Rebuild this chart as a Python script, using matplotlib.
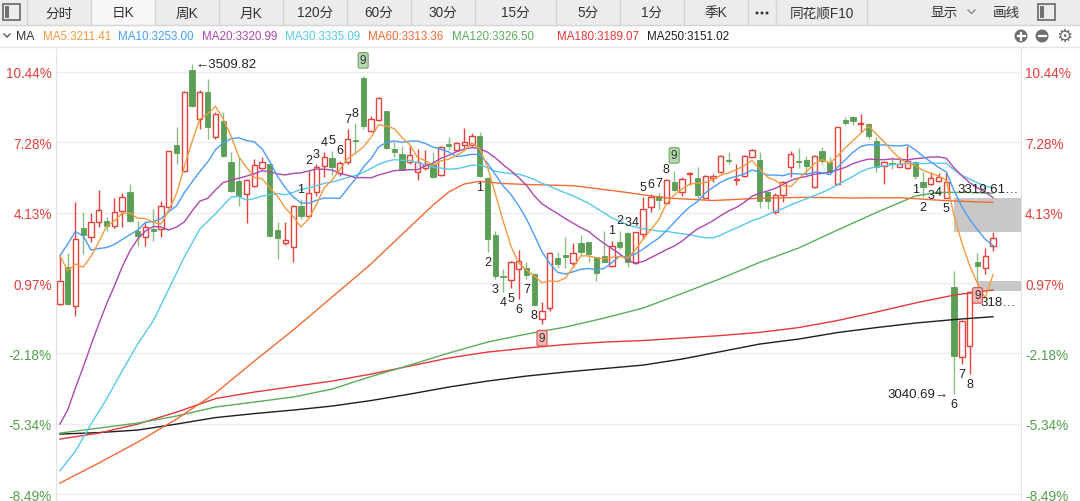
import numpy as np
import pandas as pd
import matplotlib
matplotlib.use("Agg")
import matplotlib.pyplot as plt
from matplotlib.patches import Rectangle, Circle

plt.rcParams['font.family'] = ['Liberation Sans', 'Noto Sans CJK SC', 'DejaVu Sans']

# price that the percent axis counts from
base = 3168.0

opens = [3169.0, 3221.6, 3165.7, 3276.6, 3263.8, 3285.2, 3287.4, 3280.3, 3301.6, 3327.8,
         3273.2, 3264.7, 3275.6, 3275.6, 3306.5, 3395.4, 3358.5, 3501.6, 3432.0, 3469.9,
         3406.8, 3429.5, 3370.4, 3344.3, 3325.4, 3337.2, 3361.9, 3368.0, 3274.6, 3255.3,
         3249.6, 3308.7, 3294.5, 3327.8, 3365.6, 3376.5, 3354.8, 3370.4, 3402.1, 3490.2,
         3414.5, 3431.0, 3442.9, 3389.3, 3382.2, 3370.4, 3356.2, 3362.3, 3368.0, 3352.8,
         3396.4, 3388.3, 3395.4, 3395.0, 3407.4, 3347.7, 3267.1, 3209.3, 3203.1, 3218.8,
         3219.8, 3211.7, 3147.7, 3162.9, 3234.0, 3238.7, 3227.3, 3255.7, 3256.7, 3235.4,
         3237.7, 3223.5, 3256.7, 3269.9, 3226.9, 3268.5, 3307.3, 3323.0, 3312.2, 3342.0,
         3328.6, 3354.2, 3348.5, 3320.1, 3347.7, 3357.1, 3374.1, 3345.3, 3350.5, 3378.4,
         3374.1, 3327.8, 3300.2, 3323.9, 3363.3, 3372.7, 3373.7, 3334.9, 3386.9, 3371.3,
         3339.6, 3431.0, 3434.4, 3424.4, 3424.9, 3401.1, 3365.6, 3369.4, 3364.2, 3361.9,
         3371.3, 3342.8, 3339.6, 3344.3, 3320.2, 3192.8, 3093.3, 3109.8, 3228.3, 3219.8,
         3251.9]
highs = [3237.3, 3241.5, 3313.6, 3299.4, 3298.4, 3331.1, 3292.7, 3319.7, 3326.4, 3339.6,
         3287.4, 3285.2, 3304.0, 3315.9, 3386.9, 3420.2, 3471.3, 3509.82, 3473.2, 3488.8,
         3441.5, 3441.5, 3384.6, 3377.5, 3346.7, 3375.1, 3377.5, 3368.5, 3285.2, 3285.2,
         3310.2, 3318.3, 3358.5, 3368.0, 3384.6, 3386.9, 3372.7, 3417.7, 3425.8, 3493.5,
         3436.6, 3463.7, 3443.8, 3398.8, 3394.0, 3395.4, 3389.3, 3387.9, 3384.6, 3394.0,
         3405.9, 3399.7, 3418.7, 3412.1, 3413.1, 3349.1, 3273.2, 3218.8, 3230.6, 3246.2,
         3228.3, 3212.5, 3171.4, 3243.4, 3243.4, 3263.8, 3255.3, 3267.1, 3257.6, 3236.3,
         3273.2, 3259.0, 3273.2, 3270.9, 3271.4, 3321.1, 3325.4, 3326.4, 3346.7, 3358.5,
         3349.1, 3356.2, 3363.3, 3352.4, 3353.8, 3380.8, 3384.6, 3368.0, 3380.8, 3389.3,
         3384.6, 3330.1, 3326.4, 3344.3, 3386.9, 3390.3, 3378.9, 3380.8, 3391.7, 3377.5,
         3420.6, 3434.4, 3436.6, 3439.1, 3426.3, 3405.9, 3372.7, 3377.5, 3377.5, 3394.0,
         3372.7, 3356.2, 3356.2, 3355.2, 3357.1, 3216.4, 3146.7, 3188.0, 3241.5, 3248.2,
         3271.8]
lows = [3167.5, 3168.0, 3152.4, 3240.1, 3257.2, 3278.5, 3273.2, 3277.0, 3278.9, 3285.2,
        3251.9, 3251.9, 3259.0, 3263.8, 3304.0, 3368.0, 3356.2, 3448.6, 3417.7, 3403.5,
        3403.5, 3377.5, 3327.8, 3308.7, 3283.7, 3335.3, 3360.9, 3263.8, 3233.0, 3253.3,
        3228.3, 3289.8, 3292.3, 3323.0, 3349.1, 3352.8, 3351.4, 3368.0, 3382.2, 3417.7,
        3413.1, 3429.5, 3389.3, 3377.5, 3357.6, 3368.0, 3345.3, 3359.5, 3348.1, 3351.4,
        3387.9, 3386.9, 3390.3, 3393.2, 3349.1, 3242.5, 3204.6, 3185.7, 3191.3, 3176.1,
        3204.6, 3166.8, 3141.3, 3159.5, 3219.8, 3219.8, 3221.2, 3238.7, 3229.2, 3202.2,
        3228.3, 3221.2, 3247.2, 3221.2, 3225.9, 3261.4, 3299.4, 3304.0, 3311.2, 3330.1,
        3323.0, 3338.2, 3319.3, 3319.3, 3342.0, 3355.2, 3368.0, 3338.2, 3349.5, 3377.5,
        3305.0, 3304.0, 3297.0, 3313.6, 3349.1, 3361.9, 3352.4, 3333.9, 3368.0, 3353.8,
        3338.2, 3423.4, 3423.4, 3413.9, 3403.5, 3356.2, 3339.6, 3360.9, 3363.3, 3360.9,
        3346.7, 3320.7, 3338.2, 3342.0, 3319.61, 3040.69, 3083.8, 3069.5, 3202.0, 3211.7,
        3244.8]
closes = [3201.8, 3169.0, 3261.4, 3267.1, 3285.2, 3302.6, 3280.3, 3299.4, 3321.5, 3287.4,
          3266.1, 3278.9, 3272.4, 3308.7, 3386.1, 3383.2, 3469.9, 3450.9, 3469.9, 3421.0,
          3439.1, 3379.8, 3330.1, 3323.0, 3345.3, 3366.6, 3370.4, 3266.1, 3262.4, 3260.0,
          3308.7, 3294.5, 3326.4, 3363.3, 3378.4, 3364.2, 3369.0, 3403.5, 3401.1, 3422.4,
          3432.0, 3461.4, 3390.7, 3384.6, 3359.5, 3381.2, 3370.4, 3368.0, 3350.0, 3392.6,
          3393.2, 3397.4, 3399.7, 3407.4, 3350.5, 3261.4, 3209.3, 3207.0, 3229.2, 3230.1,
          3210.3, 3167.6, 3159.8, 3241.1, 3225.9, 3236.3, 3241.1, 3243.4, 3240.1, 3212.7,
          3229.2, 3251.9, 3249.6, 3228.3, 3270.9, 3304.0, 3321.5, 3317.3, 3345.7, 3331.5,
          3346.7, 3355.6, 3323.9, 3351.4, 3350.5, 3378.9, 3372.3, 3346.7, 3379.8, 3387.9,
          3315.9, 3315.9, 3323.9, 3342.0, 3382.2, 3371.3, 3365.6, 3379.8, 3372.7, 3357.1,
          3420.2, 3425.8, 3429.5, 3425.8, 3407.4, 3363.3, 3370.4, 3368.0, 3368.0, 3372.7,
          3350.5, 3334.9, 3347.7, 3349.1, 3342.0, 3095.5, 3145.3, 3185.7, 3223.5, 3236.8,
          3262.4]

# moving averages: values before the window is full come from older data
ma5_head = [3237.7, 3216.4, 3225.9, 3221.2]
ma10_head = [3237.7, 3254.3, 3272.1, 3265.7, 3245.8, 3247.9, 3249.3, 3253.6, 3260.7]
ma20_head = [2998.5, 3018.4, 3049.7, 3079.5, 3110.8, 3140.6, 3169.0, 3194.6, 3221.6, 3244.4,
             3261.4, 3272.8, 3279.2, 3278.5, 3274.2, 3278.5, 3285.6, 3301.2, 3315.4]
ma30_head_idx = [0, 2, 4, 6, 8, 10, 12, 14, 16, 18, 20, 22, 23, 24, 25, 26, 28]
ma30_head = [2932.1, 2960.1, 2998.5, 3034.0, 3073.8, 3112.2, 3144.9, 3190.4, 3235.8, 3275.6,
             3297.0, 3321.1, 3321.8, 3316.8, 3319.0, 3322.5, 3326.1]

ma60_idx = [0, 5, 10, 15, 20, 25, 30, 35, 40, 45, 48, 50, 52, 54, 57, 60, 66, 72, 78, 84,
            90, 96, 102, 108, 114, 120]
ma60 = [2914.6, 2943.1, 2972.9, 3005.6, 3042.5, 3088.0, 3132.1, 3179.0, 3225.9, 3278.5,
        3309.7, 3328.2, 3339.6, 3343.4, 3340.3, 3338.9, 3337.2, 3328.9, 3319.7, 3316.1,
        3319.3, 3320.7, 3319.7, 3320.1, 3315.9, 3313.36]
ma120_idx = [0, 5, 10, 15, 20, 25, 30, 35, 40, 45, 50, 55, 60, 65, 70, 75, 80, 85, 90, 95,
             100, 105, 110, 113, 117, 120]
ma120 = [2985.7, 2992.8, 2999.9, 3009.9, 3022.7, 3029.8, 3036.9, 3048.2, 3066.0, 3082.3,
         3099.4, 3115.0, 3126.4, 3136.3, 3149.1, 3163.3, 3184.0, 3205.3, 3228.3, 3248.6,
         3274.2, 3299.1, 3322.5, 3327.8, 3327.5, 3326.5]
ma180_idx = [0, 5, 10, 15, 20, 25, 30, 35, 40, 45, 50, 55, 60, 65, 70, 75, 80, 85, 90, 95,
             100, 105, 110, 115, 120]
ma180 = [2977.2, 2985.7, 2998.5, 3015.5, 3034.7, 3044.0, 3051.8, 3059.6, 3069.5, 3080.9,
         3092.3, 3100.8, 3106.5, 3111.5, 3115.0, 3117.2, 3120.7, 3124.3, 3128.8, 3135.6,
         3145.6, 3157.7, 3170.5, 3181.8, 3189.07]
ma250_idx = ma180_idx
ma250 = [2984.3, 2986.4, 2990.0, 2998.5, 3007.7, 3013.4, 3018.4, 3024.1, 3031.9, 3041.1,
         3051.1, 3059.6, 3066.7, 3072.4, 3077.4, 3082.3, 3090.9, 3101.5, 3112.2, 3119.3,
         3128.5, 3135.6, 3142.0, 3147.0, 3151.02]

ma_labels = ['MA5:3211.41', 'MA10:3253.00', 'MA20:3320.99', 'MA30:3335.09',
             'MA60:3313.36', 'MA120:3326.50', 'MA180:3189.07', 'MA250:3151.02']
ma_colors = ['#f29b3f', '#4a9df5', '#ad48b0', '#57c8ea', '#f26a34', '#5cad5a', '#e6383a', '#1e1e1e']

pct_ticks = [10.44, 7.28, 4.13, 0.97, -2.18, -5.34, -8.49]

# TD sequential counts: first bar of each 1..9 run
td_up = [31, 71]
td_down = [54, 110]

tabs = ['分时', '日K', '周K', '月K', '120分', '60分', '30分', '15分', '5分', '1分', '季K', '', '同花顺F10']
tab_edges = [27, 91, 155, 219, 283, 347, 411, 475, 556, 620, 684, 748, 776, 867]

red = '#e5423c'
green = '#5b9e55'
green_wick = '#8bbd85'

n = len(closes)
idx = np.arange(n)
cs = pd.Series(closes)

def ma_line(window, head_idx, head_vals):
    roll = cs.rolling(window).mean()
    xs = list(head_idx) + list(idx[window - 1:])
    ys = list(head_vals) + list(roll.values[window - 1:])
    return xs, ys

fig = plt.figure(figsize=(10.8, 5.02), dpi=100)
ax = fig.add_axes([56 / 1080, 0, (1021 - 56) / 1080, 1 - 48 / 502])

# candles
w = 0.68
for i in range(n):
    o, h, l, c = opens[i], highs[i], lows[i], closes[i]
    if c >= o:
        ax.vlines(i, max(o, c), h, color=red, lw=1, zorder=2)
        ax.vlines(i, l, min(o, c), color=red, lw=1, zorder=2)
        ax.add_patch(Rectangle((i - w / 2, o), w, max(c - o, 0.7), fc='white', ec=red, lw=1, zorder=2.2))
    else:
        ax.vlines(i, l, h, color=green_wick, lw=1, zorder=2)
        ax.add_patch(Rectangle((i - w / 2, c), w, max(o - c, 0.7), fc=green, ec=green, lw=0.6, zorder=2.2))

# moving averages
lines = [
    (ma250_idx, ma250, 7),
    (ma180_idx, ma180, 6),
    (ma120_idx, ma120, 5),
    (ma60_idx, ma60, 4),
    ma_line(30, ma30_head_idx, ma30_head) + (3,),
    ma_line(20, range(19), ma20_head) + (2,),
    ma_line(10, range(9), ma10_head) + (1,),
    ma_line(5, range(4), ma5_head) + (0,),
]
for xs, ys, k in lines:
    ax.plot(xs, ys, color=ma_colors[k], lw=1.0, zorder=3)

# unfilled gaps
xmax = 123.6
g1_top, g1_bot = lows[114], highs[120]
ax.add_patch(Rectangle((115, g1_bot), xmax - 115, g1_top - g1_bot, fc='#c8c8c8', ec='none', zorder=1.5))
g2_top, g2_bot = lows[118], highs[117]
ax.add_patch(Rectangle((118, g2_bot), xmax - 118, g2_top - g2_bot, fc='#c8c8c8', ec='none', zorder=1.5))
ax.annotate(f'{g1_top:.2f}…', (115, g1_top), xytext=(2.5, 2.5), textcoords='offset points',
            ha='left', va='bottom', fontsize=9.5, color='#222', zorder=6)
ax.annotate(f'{g2_bot:.2f}'[:3] + '…', (118, g2_bot), xytext=(2, -4), textcoords='offset points',
            ha='left', va='top', fontsize=9.5, color='#222', zorder=6)

# extremes
imax = int(np.argmax(highs))
imin = int(np.argmin(lows))
ax.annotate(f'←{highs[imax]:.2f}', (imax, highs[imax]), xytext=(2, 0), textcoords='offset points',
            ha='left', va='center', fontsize=9.5, color='#222', zorder=6)
ax.annotate(f'{lows[imin]:.2f}→', (imin, lows[imin]), xytext=(-4, 0), textcoords='offset points',
            ha='right', va='center', fontsize=9.5, color='#222', zorder=6)

# TD numbers
for s in td_up:
    for k in range(1, 10):
        i = s + k - 1
        if k < 9:
            ax.annotate(str(k), (i, highs[i]), xytext=(0, 7.5), textcoords='offset points',
                        ha='center', va='center', fontsize=9, color='#222', zorder=6)
        else:
            ax.annotate('9', (i, highs[i]), xytext=(0, 11), textcoords='offset points',
                        ha='center', va='center', fontsize=8.5, color='#333', zorder=6,
                        bbox=dict(boxstyle='round,pad=0.15', fc='#b7d7b1', ec='#6aa665', lw=0.8))
for s in td_down:
    for k in range(1, 10):
        i = s + k - 1
        if k < 9:
            ax.annotate(str(k), (i, lows[i]), xytext=(0, -7), textcoords='offset points',
                        ha='center', va='center', fontsize=9, color='#222', zorder=6)
        else:
            ax.annotate('9', (i, lows[i]), xytext=(0, -10.5), textcoords='offset points',
                        ha='center', va='center', fontsize=8.5, color='#333', zorder=6,
                        bbox=dict(boxstyle='round,pad=0.15', fc='#f0b4b2', ec='#e0504c', lw=0.8))

# axes
ax.set_xlim(-0.5, xmax)
ax.set_ylim(base * (1 - 8.80 / 100), base * (1 + 11.56 / 100))
ax.set_xticks([])
ax.set_yticks([base * (1 + p / 100) for p in pct_ticks])
ax.set_yticklabels([f'{p:.2f}%' for p in pct_ticks])
ax.tick_params(axis='y', length=0, labelleft=True, labelright=True, pad=3, labelsize=9.8)
for t, p in zip(ax.yaxis.get_major_ticks(), pct_ticks):
    col = '#e1403b' if p > 0 else '#52a04c'
    t.label1.set_color(col)
    t.label2.set_color(col)
ax.grid(axis='y', color='#ececec', lw=1, zorder=0)
ax.set_axisbelow(True)
for sp in ['top', 'bottom']:
    ax.spines[sp].set_visible(False)
for sp in ['left', 'right']:
    ax.spines[sp].set_color('#e2e2e2')

# toolbar and MA row
ui = fig.add_axes([0, 0, 1, 1])
ui.set_xlim(0, 1080)
ui.set_ylim(502, 0)
ui.axis('off')
ui.add_patch(Rectangle((0, 0), 1080, 26, fc='#ececec', ec='none'))
ui.add_patch(Rectangle((tab_edges[1], 0), tab_edges[2] - tab_edges[1], 26, fc='#f8f8f8', ec='none'))
ui.plot([0, 1080], [26, 26], color='#d4d4d4', lw=1)
for e in tab_edges:
    ui.plot([e, e], [0, 26], color='#d4d4d4', lw=1)
for lab, a, b in zip(tabs, tab_edges[:-1], tab_edges[1:]):
    ui.text((a + b) / 2, 13.5, lab, ha='center', va='center', fontsize=9.8, color='#333')
for dx in (-5, 0, 5):
    ui.add_patch(Circle((762 + dx, 14), 1.5, fc='#333', ec='none'))
ui.text(944, 13.5, '显示', ha='center', va='center', fontsize=9.8, color='#333')
ui.plot([968, 971.5, 975], [11, 14.5, 11], color='#888', lw=1)
ui.text(1006, 13.5, '画线', ha='center', va='center', fontsize=9.8, color='#333')
for x0 in [3, 1038]:
    ui.add_patch(Rectangle((x0, 5), 17, 16, fc='none', ec='#707070', lw=1.3))
    ui.add_patch(Rectangle((x0 + 2, 7), 4, 12, fc='#707070', ec='none'))

ui.plot([0, 1080], [47.5, 47.5], color='#e4e4e4', lw=1)
ui.plot([4, 7, 10], [35, 38, 35], color='#555', lw=1)
ui.text(16, 37, 'MA', ha='left', va='center', fontsize=8.8, color='#333')
label_x = [42.7, 118.3, 201.7, 285, 368.3, 451.7, 557.3, 647.3]
for lab, col, x0 in zip(ma_labels, ma_colors, label_x):
    ui.text(x0, 37, lab, ha='left', va='center', fontsize=8.4, color=col)
for cx, sym in [(1021, '+'), (1042, '-')]:
    ui.add_patch(Circle((cx, 37), 6.5, fc='#6e6e6e', ec='none'))
    ui.plot([cx - 3.5, cx + 3.5], [37, 37], color='white', lw=1.6)
    if sym == '+':
        ui.plot([cx, cx], [33.5, 40.5], color='white', lw=1.6)
ui.text(1064, 37.5, '⚙', ha='center', va='center', fontsize=13, color='#6e6e6e', family=['DejaVu Sans'])

fig.savefig('out.png', dpi=100)
